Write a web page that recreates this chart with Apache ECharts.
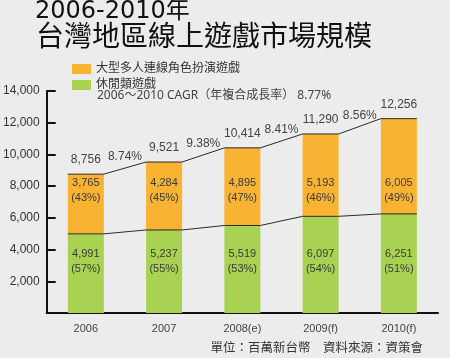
<!DOCTYPE html>
<html><head><meta charset="utf-8">
<script src="https://cdn.jsdelivr.net/npm/echarts@6/dist/echarts.min.js"></script>
<style>html,body{margin:0;padding:0;background:#ececec}#c{width:450px;height:358px}</style>
</head><body><div id="c"></div>
<script>
const categories = ['2006', '2007', '2008(e)', '2009(f)', '2010(f)'];
const mmorpg = [3765, 4284, 4895, 5193, 6005];
const casual = [4991, 5237, 5519, 6097, 6251];
const totals = [8756, 9521, 10414, 11290, 12256];
const mmorpgPct = ['43%', '45%', '47%', '46%', '49%'];
const casualPct = ['57%', '55%', '53%', '54%', '51%'];
const growth = ['8.74%', '9.38%', '8.41%', '8.56%'];
const yTicks = [0, 2000, 4000, 6000, 8000, 10000, 12000, 14000];
const seriesNames = ['大型多人連線角色扮演遊戲', '休閒類遊戲'];
const cagrText = '2006～2010 CAGR（年複合成長率） 8.77%';
const titleLine1 = '2006-2010年';
const titleLine2 = '台灣地區線上遊戲市場規模';
const noteText = '單位：百萬新台幣　資料來源：資策會';

const ORANGE = '#F9B332', GREEN = '#A9D152';
const FONT = '"Liberation Sans", "Noto Sans CJK TC", sans-serif';
const CJK = '"Noto Sans", "Noto Sans CJK TC", sans-serif';
const BAR_W = 36;
const fmt = v => v.toLocaleString('en-US');
// label anchor levels (value units) for the in-bar text blocks
const ORANGE_LABEL_AT = 7700, GREEN_LABEL_AT = 3250;

const chart = echarts.init(document.getElementById('c'), null, {renderer: 'canvas'});

function lineSeries(vals) {
  return {
    type: 'custom', silent: true, z: 5,
    data: vals.map((v, i) => [i, v, i < vals.length - 1 ? vals[i + 1] : v]),
    renderItem: function (params, api) {
      const i = api.value(0);
      const p = api.coord([i, api.value(1)]);
      const pts = [[p[0] - BAR_W / 2, p[1]], [p[0] + BAR_W / 2, p[1]]];
      if (i < vals.length - 1) {
        const q = api.coord([i + 1, api.value(2)]);
        pts.push([q[0] - BAR_W / 2, q[1]]);
      }
      return {type: 'polyline', shape: {points: pts}, style: {stroke: '#2a2a2a', lineWidth: 1, fill: null}};
    }
  };
}

const textSeries = {
  type: 'custom', silent: true, z: 6,
  data: totals.map((v, i) => [i, v]),
  renderItem: function (params, api) {
    const i = api.value(0);
    const top = api.coord([i, totals[i]]);
    const ol = api.coord([i, ORANGE_LABEL_AT]);
    const gl = api.coord([i, GREEN_LABEL_AT]);
    const children = [
      {type: 'text', x: top[0], y: top[1] - 14, style: {text: fmt(totals[i]), fill: '#444', font: '12px ' + FONT, align: 'center', verticalAlign: 'middle'}},
      {type: 'text', x: ol[0], y: ol[1], style: {text: fmt(mmorpg[i]) + '\n(' + mmorpgPct[i] + ')', fill: '#3a3a3a', font: '11px ' + FONT, align: 'center', verticalAlign: 'middle', lineHeight: 15}},
      {type: 'text', x: gl[0], y: gl[1], style: {text: fmt(casual[i]) + '\n(' + casualPct[i] + ')', fill: '#3a3a3a', font: '11px ' + FONT, align: 'center', verticalAlign: 'middle', lineHeight: 15}}
    ];
    if (i < totals.length - 1) {
      const n = api.coord([i + 1, totals[i + 1]]);
      const mx = (top[0] + n[0]) / 2;
      const my = (top[1] + n[1]) / 2;
      children.push({type: 'text', x: mx, y: my - 11, style: {text: growth[i], fill: '#444', font: '12px ' + FONT, align: 'center', verticalAlign: 'middle'}});
    }
    return {type: 'group', children: children};
  }
};

chart.setOption({
  backgroundColor: '#ececec',
  animation: false,
  grid: {left: 44, right: 12, top: 91, bottom: 45},
  legend: {
    orient: 'vertical', left: 72, top: 62, padding: 0, itemWidth: 19, itemHeight: 10, itemGap: 2,
    icon: 'rect', data: seriesNames,
    textStyle: {color: '#333', fontSize: 12, lineHeight: 14, fontFamily: CJK}
  },
  xAxis: {
    type: 'category', data: categories,
    axisLine: {lineStyle: {color: '#111', width: 2}},
    axisTick: {inside: true, length: 10, lineStyle: {color: '#111', width: 2}},
    axisLabel: {color: '#444', fontSize: 11, fontFamily: FONT, margin: 10}
  },
  yAxis: {
    type: 'value', min: yTicks[0], max: yTicks[yTicks.length - 1], interval: 2000,
    splitLine: {show: false},
    axisLine: {show: true, lineStyle: {color: '#111', width: 2}},
    axisTick: {show: true, inside: true, length: 9, lineStyle: {color: '#111', width: 2}},
    axisLabel: {color: '#333', fontSize: 12, fontFamily: FONT, margin: 7,
      formatter: v => v === 0 ? '' : fmt(v)}
  },
  series: [
    {name: seriesNames[1], type: 'bar', stack: 's', data: casual, barWidth: BAR_W, itemStyle: {color: GREEN}},
    {name: seriesNames[0], type: 'bar', stack: 's', data: mmorpg, barWidth: BAR_W, itemStyle: {color: ORANGE}},
    lineSeries(casual),
    lineSeries(totals),
    textSeries
  ],
  graphic: [
    {type: 'text', left: 35, top: 0, style: {text: titleLine1, fill: '#111', font: '24px "DejaVu Sans", "Noto Sans CJK TC", sans-serif'}},
    {type: 'text', left: 36, top: 21, style: {text: titleLine2, fill: '#111', font: '28px "Noto Sans CJK TC", sans-serif'}},
    {type: 'text', left: 97, top: 90, style: {text: cagrText, fill: '#444', font: '12px ' + CJK}},
    {type: 'text', right: 27, top: 341, style: {text: noteText, fill: '#333', font: '12.5px "Noto Sans CJK TC", sans-serif'}}
  ]
});
</script></body></html>
